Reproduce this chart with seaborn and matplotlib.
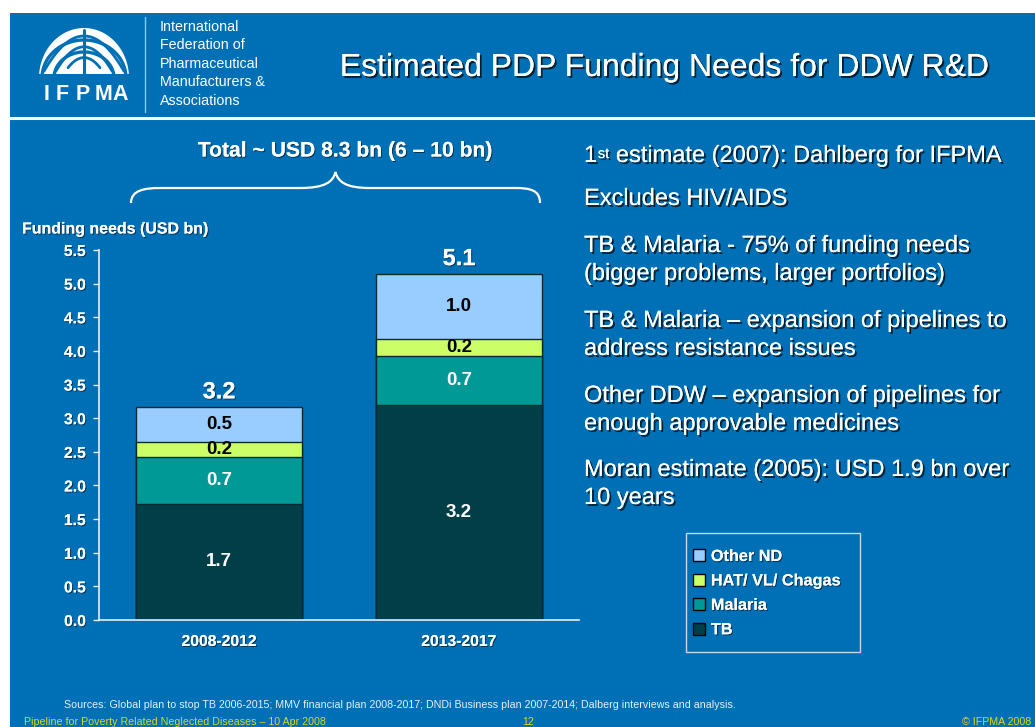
import numpy as np
import pandas as pd
import matplotlib
matplotlib.use("Agg")
import matplotlib.pyplot as plt
import matplotlib.patheffects as pe
from matplotlib.patches import Rectangle, Patch, PathPatch, Polygon
from matplotlib.path import Path
import seaborn as sns

# ---------------- data ----------------
periods = ["2008-2012", "2013-2017"]
series = ["TB", "Malaria", "HAT/ VL/ Chagas", "Other ND"]
tb = [1.73, 3.19]
malaria = [0.69, 0.74]
hat = [0.23, 0.24]
other_nd = [0.51, 0.97]
y_ticks = [0.0, 0.5, 1.0, 1.5, 2.0, 2.5, 3.0, 3.5, 4.0, 4.5, 5.0, 5.5]

colors = {"TB": "#003F48", "Malaria": "#009995",
          "HAT/ VL/ Chagas": "#CCFF66", "Other ND": "#99CCFF"}
label_colors = {"TB": "white", "Malaria": "white",
                "HAT/ VL/ Chagas": "black", "Other ND": "black"}

BLUE = "#0070B6"
FONT = "Liberation Sans"

sns.set_style("ticks")
plt.rcParams["font.family"] = [FONT, "DejaVu Sans"]

W, H = 1035, 727
fig = plt.figure(figsize=(W / 100, H / 100), dpi=100, facecolor="white")

# background / decoration axes in pixel coordinates
bg = fig.add_axes([0, 0, 1, 1], zorder=0)
bg.set_xlim(0, W)
bg.set_ylim(H, 0)
bg.axis("off")
bg.add_patch(Rectangle((10, 13), W - 10, H - 13, facecolor=BLUE, edgecolor="none"))
bg.plot([10, W], [118, 118], color="white", lw=2.2)
bg.plot([145, 145], [17, 112], color="#9cc4e4", lw=1)

shadow = [pe.withSimplePatchShadow(offset=(1.4, -1.4), shadow_rgbFace="black", alpha=0.7), pe.Normal()]
soft_shadow = [pe.withSimplePatchShadow(offset=(0.8, -0.8), shadow_rgbFace="black", alpha=0.5), pe.Normal()]

# logo: stylised dome emblem
t = np.linspace(0, np.pi, 80)
dome = np.column_stack([84 + 45 * np.cos(t), 78 - 50 * np.sin(t)])
bg.add_patch(Polygon(dome, closed=True, facecolor="white", edgecolor="none"))
for r in [34, 22]:
    bg.plot(84 + (r + 8) * np.cos(t), 78 - (r + 4) * np.sin(t), color=BLUE, lw=2.4)
for d in [0, 12, 24]:
    xs = np.linspace(-40 + d, 40 - d, 50)
    bg.plot(84 + xs, 36 + d * 0.9 + 0.022 * xs ** 2 * (1 + d / 30), color=BLUE, lw=2.0)
bg.plot([84, 84], [30, 78], color=BLUE, lw=2.2)
bg.add_patch(Rectangle((37, 74), 95, 10, facecolor=BLUE, edgecolor="none"))
for ch, cx in zip("IFPMA", [46.5, 62.5, 82.5, 103.5, 120.5]):
    bg.text(cx, 95, ch, color="white", fontsize=15.5, fontweight="bold",
            ha="center", va="center")

org_lines = ["International", "Federation of", "Pharmaceutical",
             "Manufacturers &", "Associations"]
for i, line in enumerate(org_lines):
    bg.text(160, 27 + i * 18.4, line, color="white", fontsize=10.3, va="center", ha="left")

bg.text(665, 68, "Estimated PDP Funding Needs for DDW R&D", color="white",
        fontsize=23, ha="center", va="center", path_effects=shadow)

# Total + brace
bg.text(345, 151, "Total ~ USD 8.3 bn (6 – 10 bn)", color="white", fontsize=15.2,
        fontweight="bold", ha="center", va="center", path_effects=soft_shadow)
verts = [(131, 203), (131, 190), (145, 188), (160, 188),
         (300, 188),
         (325, 188), (333, 182), (335.5, 172),
         (338, 182), (346, 188), (370, 188),
         (515, 188),
         (530, 188), (540, 190), (540, 203)]
codes = [Path.MOVETO, Path.CURVE4, Path.CURVE4, Path.CURVE4,
         Path.LINETO,
         Path.CURVE4, Path.CURVE4, Path.CURVE4,
         Path.CURVE4, Path.CURVE4, Path.CURVE4,
         Path.LINETO,
         Path.CURVE4, Path.CURVE4, Path.CURVE4]
bg.add_patch(PathPatch(Path(verts, codes), facecolor="none", edgecolor="white", lw=1.6))

bg.text(22, 229, "Funding needs (USD bn)", color="white", fontsize=11.5,
        fontweight="bold", ha="left", va="center", path_effects=soft_shadow)

# right-hand text
RFS = 17
t1 = bg.text(584, 162, "1", color="white", fontsize=RFS, va="baseline", ha="left",
             path_effects=shadow)
t2 = bg.annotate("st", xy=(1, 1), xycoords=t1, xytext=(0.5, -1.5), textcoords="offset points",
                 color="white", fontsize=10.5, va="top", ha="left", path_effects=shadow)
t3 = bg.annotate(" estimate (2007): Dahlberg for IFPMA", xy=(1, 0), xycoords=(t2, t1),
                 color="white", fontsize=RFS, va="bottom", ha="left", path_effects=shadow)
right_lines = [(199, "Excludes HIV/AIDS"),
               (246, "TB & Malaria - 75% of funding needs"),
               (274, "(bigger problems, larger portfolios)"),
               (321, "TB & Malaria – expansion of pipelines to"),
               (349, "address resistance issues"),
               (396, "Other DDW – expansion of pipelines for"),
               (424, "enough approvable medicines"),
               (470, "Moran estimate (2005): USD 1.9 bn over"),
               (498, "10 years")]
for y, s in right_lines:
    bg.text(584, y, s, color="white", fontsize=RFS, va="center", ha="left", path_effects=shadow)

# legend box
bg.add_patch(Rectangle((686, 533), 174, 119, facecolor="none", edgecolor="#c8d8e8", lw=1))

# footer
bg.text(64, 705, "Sources: Global plan to stop TB 2006-2015; MMV financial plan 2008-2017; "
        "DNDi Business plan 2007-2014; Dalberg interviews and analysis.",
        color="#e8f0f8", fontsize=7.7, ha="left", va="center")
FOOT = "#D8D820"
bg.text(24, 722, "Pipeline for Poverty Related Neglected Diseases – 10 Apr 2008",
        color=FOOT, fontsize=7.7, ha="left", va="center")
bg.text(528, 722, "12", color=FOOT, fontsize=7.7, ha="center", va="center")
bg.text(1031, 722, "© IFPMA 2008", color=FOOT, fontsize=7.7, ha="right", va="center")

# ---------------- chart ----------------
ax = fig.add_axes([99.3 / W, 1 - 620 / H, (579 - 99.3) / W, (620 - 250) / H], zorder=2)
ax.set_facecolor("none")

df = pd.DataFrame({"period": periods, "TB": tb, "Malaria": malaria,
                   "HAT/ VL/ Chagas": hat, "Other ND": other_nd})
cum = df[series].cumsum(axis=1)
bar_w = 0.693
# draw from top layer down so each stack is visible
for s in reversed(series):
    sns.barplot(data=pd.DataFrame({"period": periods, "value": cum[s].values}),
                x="period", y="value", order=periods, color=colors[s],
                saturation=1, width=bar_w, edgecolor="#0b2a30", linewidth=1.0, ax=ax)

for i in range(len(periods)):
    base = 0.0
    for s in series:
        v = df[s].iloc[i]
        ax.text(i, base + v / 2, f"{v:.1f}", ha="center", va="center",
                color=label_colors[s], fontsize=13.5, fontweight="bold")
        base += v
    ax.text(i, base + 0.06, f"{base:.1f}", ha="center", va="bottom", color="white",
            fontsize=17, fontweight="bold", path_effects=soft_shadow)

ax.set_xlim(-0.5, 1.5)
ax.set_ylim(0, 5.5)
ax.set_yticks(y_ticks)
ax.set_yticklabels([f"{t:.1f}" for t in y_ticks])
ax.set_xlabel("")
ax.set_ylabel("")
for sp in ["top", "right"]:
    ax.spines[sp].set_visible(False)
for sp in ["left", "bottom"]:
    ax.spines[sp].set_color("#e6eef6")
    ax.spines[sp].set_linewidth(1.2)
ax.tick_params(axis="y", colors="#e6eef6", length=4.5, width=1, pad=5, labelsize=11.3)
ax.tick_params(axis="x", length=0, pad=10, labelsize=11.3)
for lab in ax.get_yticklabels() + ax.get_xticklabels():
    lab.set_color("white")
    lab.set_fontweight("bold")
    lab.set_path_effects(soft_shadow)

# legend
handles = [Patch(facecolor=colors[s], edgecolor="black", linewidth=1) for s in reversed(series)]
leg = fig.legend(handles, list(reversed(series)), loc="upper left",
                 bbox_to_anchor=(680 / W, 1 - 536 / H), frameon=False,
                 handlelength=0.75, handleheight=0.75, handletextpad=0.35,
                 labelspacing=0.58, borderpad=0.3, fontsize=11.7)
for txt in leg.get_texts():
    txt.set_color("white")
    txt.set_fontweight("bold")
    txt.set_path_effects(soft_shadow)

fig.savefig("out.png", dpi=100, facecolor=fig.get_facecolor())
